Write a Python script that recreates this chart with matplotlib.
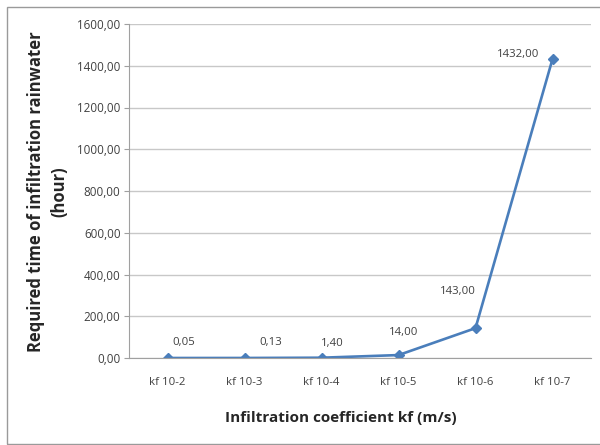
import matplotlib
matplotlib.use("Agg")
import matplotlib.pyplot as plt
from matplotlib.patches import Rectangle
from matplotlib.ticker import FuncFormatter, MultipleLocator

categories = ["kf 10-2", "kf 10-3", "kf 10-4", "kf 10-5", "kf 10-6", "kf 10-7"]
hours = [0.05, 0.13, 1.40, 14.00, 143.00, 1432.00]
value_labels = ["0,05", "0,13", "1,40", "14,00", "143,00", "1432,00"]
# label offsets (points) relative to each marker
label_offsets = [(12, 11), (19, 11), (8, 10), (3.5, 16.5), (-13, 26.5), (-25, 3.5)]

plt.rcParams["font.family"] = ["Open Sans", "DejaVu Sans"]

fig = plt.figure(figsize=(6.0, 4.45), dpi=100)
fig.patch.set_facecolor("white")
# outer chart frame (runs past the right edge)
fig.patches.append(Rectangle((7 / 600, 1 - 444 / 445), 600 / 600, 437 / 445,
                             transform=fig.transFigure, fill=False,
                             edgecolor="#9a9a9a", linewidth=1.0))

ax = fig.add_axes([129 / 600, 1 - 358 / 445, 462 / 600, 334 / 445])
x = list(range(len(categories)))
line_color = "#4a7ebb"
ax.plot(x, hours, color=line_color, linewidth=1.9, marker="D",
        markersize=5, markerfacecolor=line_color, markeredgecolor=line_color)

for xi, yi, txt, (dx, dy) in zip(x, hours, value_labels, label_offsets):
    ax.annotate(txt, (xi, yi), xytext=(dx, dy), textcoords="offset points",
                ha="center", va="center", fontsize=8.2, color="#404040")

ax.set_xlim(-0.5, len(categories) - 0.5)
ax.set_ylim(0, 1600)
ax.yaxis.set_major_locator(MultipleLocator(200))
ax.yaxis.set_major_formatter(FuncFormatter(lambda v, p: f"{v:.2f}".replace(".", ",")))
ax.set_xticks(x)
ax.set_xticklabels(categories)
ax.tick_params(axis="y", length=3.6, color="#a0a0a0", labelsize=8.4,
               labelcolor="#404040", pad=2.5)
ax.tick_params(axis="x", length=0, labelsize=8.2, labelcolor="#404040", pad=14)
ax.grid(axis="y", color="#c8c8c8", linewidth=1.0)
ax.set_axisbelow(True)
for s in ["top", "right"]:
    ax.spines[s].set_visible(False)
ax.spines["left"].set_color("#a0a0a0")
ax.spines["bottom"].set_color("#a0a0a0")

fig.text(341 / 600, 1 - 418 / 445, "Infiltration coefficient kf (m/s)",
         ha="center", va="center", fontsize=11, fontweight="bold", color="#262626")
fig.text(48 / 600, 1 - 192 / 445, "Required time of infiltration rainwater\n(hour)",
         rotation=90, ha="center", va="center", multialignment="center",
         fontsize=12, fontweight="bold", color="#262626", linespacing=1.38)

fig.savefig("out.png", dpi=100, facecolor="white")
